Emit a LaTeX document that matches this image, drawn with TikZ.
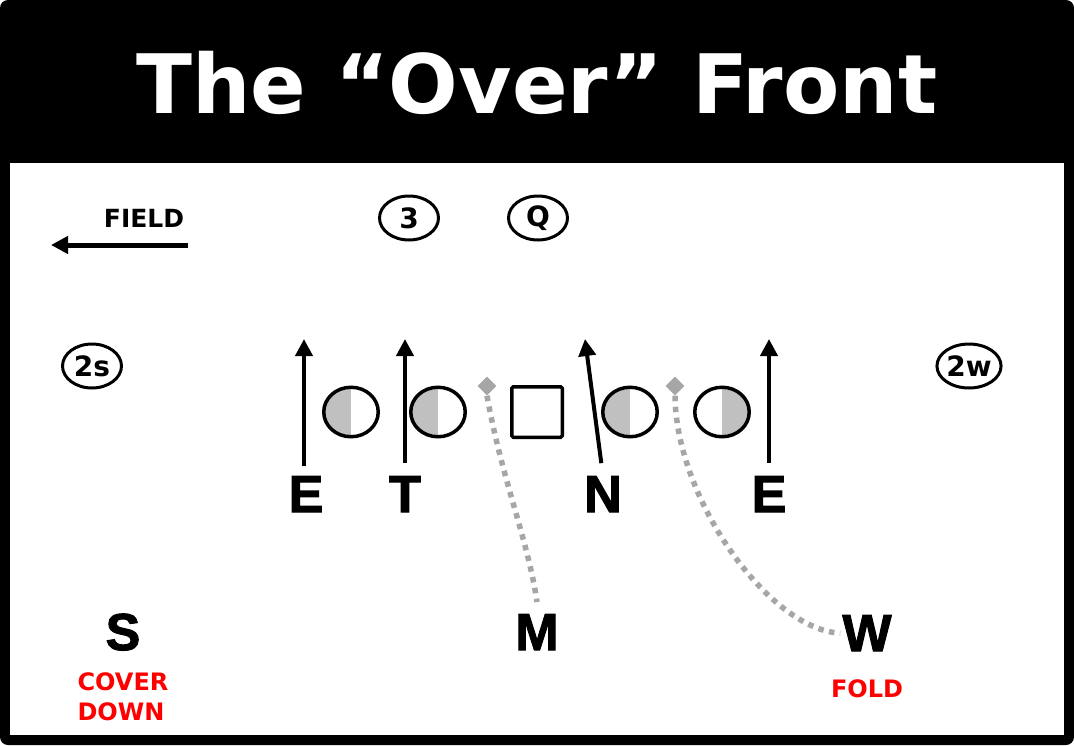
\documentclass[tikz,border=0pt]{standalone}
\usepackage{fontspec}
\usetikzlibrary{shapes.geometric,arrows.meta}
\newfontfamily\dvfont{DejaVu Sans}
\newfontfamily\heavyfont[UprightFont={* Bold}, FakeBold=2]{Liberation Sans}
\definecolor{routegray}{HTML}{A6A6A6}
\definecolor{halfgray}{HTML}{C0C0C0}
\definecolor{callred}{HTML}{FF0000}
\begin{document}
\begin{tikzpicture}[x=1pt,y=-1pt,
  lbl/.style={font=\heavyfont\fontsize{52}{52}\selectfont, inner sep=0pt, anchor=base},
  off/.style={ellipse, draw, line width=3pt, minimum width=59pt, minimum height=44pt, inner sep=0pt, font=\dvfont\bfseries\fontsize{28}{28}\selectfont},
  techL/.style={ellipse, draw, line width=3.5pt, minimum width=54.5pt, minimum height=49.5pt, inner sep=0pt,
    path picture={\fill[halfgray] (path picture bounding box.south west) rectangle (path picture bounding box.north);}},
  techR/.style={ellipse, draw, line width=3.5pt, minimum width=54.5pt, minimum height=49.5pt, inner sep=0pt,
    path picture={\fill[halfgray] (path picture bounding box.south east) rectangle (path picture bounding box.north);}},
  rush/.style={line width=4pt, -{Triangle[length=17pt,width=17pt]}},
  route/.style={routegray, line width=5.5pt, dash pattern=on 5.5pt off 5.5pt},
  drop/.style={diamond, fill=routegray, minimum size=19pt, inner sep=0pt},
  call/.style={text=callred, font=\dvfont\bfseries\fontsize{24}{30}\selectfont, inner sep=0pt, anchor=base}
]
\useasboundingbox (0,0) rectangle (1074,745);
\fill[black, rounded corners=8pt] (0,0) rectangle (1074,745);
\fill[white] (10,163) rectangle (1064,735);

\node[text=white, font=\dvfont\bfseries\fontsize{82}{82}\selectfont, inner sep=0pt, anchor=base] (title) at (537,113) {The “Over” Front};

% field indicator
\node[font=\dvfont\bfseries\fontsize{25}{25}\selectfont, inner sep=0pt, anchor=base] (field) at (144,227) {FIELD};
\coordinate (fs) at (188,245);
\coordinate (fe) at (51,245);
\draw[line width=5pt, -{Triangle[length=17pt,width=17pt]}] (fs) -- (fe);

% offense
\node[off] (o3) at (409,218) {3};
\node[off] (oQ) at (538,218) {Q};
\node[off] (o2s) at (92,366) {2s};
\node[off] (o2w) at (969,366) {2w};

\node[techL] (t1) at (351,412) {};
\node[techL] (t2) at (438,412) {};
\node[draw, line width=3.5pt, minimum size=50.5pt, inner sep=0pt, rounded corners=1.5pt] (ctr) at (537,412) {};
\node[techL] (t3) at (630,412) {};
\node[techR] (t4) at (722,412) {};

% defense labels
\node[lbl] (lE1) at (306,512) {E};
\node[lbl] (lT) at (405,512) {T};
\node[lbl] (lN) at (603,512) {N};
\node[lbl] (lE2) at (769,512) {E};
\node[lbl] (lS) at (123,650) {S};
\node[lbl] (lM) at (537,650) {M};
\node[lbl] (lW) at (867,651) {W};

\node[call] (cS1) at (123,690) {COVER};
\node[call] (cS2) at (121,720) {DOWN};
\node[call] (cW) at (867,697) {FOLD};

% rush arrows
\coordinate (aE1) at (304,339);
\coordinate (aT) at (405,339);
\coordinate (aN) at (585,339);
\coordinate (aE2) at (769,339);
\draw[rush, shorten <=10pt] (lE1.north -| aE1) -- (aE1);
\draw[rush, shorten <=13pt] (lT.north) -- (aT);
\draw[rush, shorten <=13pt] (lN.north) -- (aN);
\draw[rush, shorten <=13pt] (lE2.north) -- (aE2);

% linebacker drops
\node[drop] (dM) at (487,386) {};
\node[drop] (dW) at (675,386) {};
\draw[route] (dM.south) .. controls (502,480) and (528,540) .. ([yshift=12pt]lM.north);
\draw[route] (dW.south) .. controls (676,500) and (770,630) .. ([xshift=-2pt]lW.west);
\end{tikzpicture}
\end{document}
